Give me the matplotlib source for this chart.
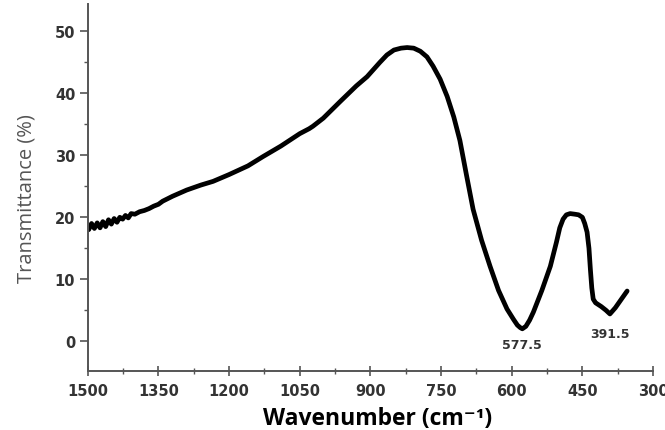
import numpy as np
import matplotlib.pyplot as plt
from matplotlib.ticker import MultipleLocator

# FTIR spectrum (wavenumber in cm-1, transmittance in %)
wavenumber = [1498, 1492, 1486, 1480, 1474, 1468, 1462, 1456, 1450, 1444, 1438,
              1432, 1426, 1420, 1414, 1408, 1400, 1390, 1380, 1370, 1360, 1350,
              1341, 1320, 1290, 1260, 1234, 1200, 1160, 1128, 1090, 1050, 1030,
              1022, 1000, 964, 930, 907, 880, 865, 850, 835, 822, 808, 794, 780,
              767, 752, 737, 723, 710, 696, 682, 664, 646, 628, 610, 596, 588,
              582, 577.5, 570, 562, 554, 536, 518, 505, 498, 491, 484, 476, 466,
              458, 450, 445, 440, 436, 433, 430, 427, 422, 418, 410, 400, 391.5,
              380, 368, 355]
transmittance = [18.0, 19.0, 18.2, 19.1, 18.3, 19.3, 18.5, 19.6, 18.9, 19.8, 19.2,
                 20.0, 19.7, 20.3, 19.9, 20.6, 20.5, 20.9, 21.1, 21.4, 21.8, 22.1,
                 22.6, 23.4, 24.4, 25.2, 25.8, 26.9, 28.3, 29.8, 31.5, 33.5, 34.3,
                 34.7, 36.0, 38.7, 41.2, 42.7, 45.0, 46.2, 47.0, 47.3, 47.4, 47.3, 46.8, 45.9,
                 44.4, 42.3, 39.5, 36.2, 32.4, 26.8, 21.3, 16.3, 12.1, 8.2, 5.2, 3.5, 2.6,
                 2.2, 2.0, 2.4, 3.4, 4.7, 8.2, 12.1, 16.0, 18.3, 19.7, 20.4, 20.6, 20.5,
                 20.4, 20.0, 19.0, 17.6, 15.0, 11.6, 8.6, 6.8, 6.2, 6.0, 5.6, 5.0, 4.4,
                 5.4, 6.7, 8.1]

peak_labels = ["577.5", "391.5"]
peak_x = [577.5, 391.5]
peak_y = [0.5, 2.3]

fig = plt.figure(figsize=(6.65, 4.31), dpi=100)
ax = fig.add_axes([0.132, 0.137, 0.85, 0.851])

ax.plot(wavenumber, transmittance, color="black", lw=3.4,
        solid_joinstyle="round", solid_capstyle="round")

for lab, x, y in zip(peak_labels, peak_x, peak_y):
    ax.text(x, y, lab, ha="center", va="top", fontsize=9, fontweight="bold",
            color="#333333", family="DejaVu Sans")

ax.set_xlim(1500, 300)
ax.set_ylim(-4.8, 54.4)
ax.xaxis.set_major_locator(MultipleLocator(150))
ax.xaxis.set_minor_locator(MultipleLocator(75))
ax.yaxis.set_major_locator(MultipleLocator(10))
ax.yaxis.set_minor_locator(MultipleLocator(5))

for side in ["top", "right"]:
    ax.spines[side].set_visible(False)
for side in ["left", "bottom"]:
    ax.spines[side].set_color("#555555")
    ax.spines[side].set_linewidth(1.4)

ax.tick_params(axis="y", which="major", direction="out", length=6, width=1.2,
               color="#555555", labelsize=10.5, labelcolor="#333333", pad=3)
ax.tick_params(axis="y", which="minor", direction="out", length=3, width=1.0, color="#555555")
ax.tick_params(axis="x", which="major", direction="inout", length=7, width=1.2,
               color="#555555", labelsize=10.5, labelcolor="#333333", pad=5)
ax.tick_params(axis="x", which="minor", direction="inout", length=4, width=1.0, color="#555555")
for t in ax.get_xticklabels() + ax.get_yticklabels():
    t.set_fontweight("bold")
    t.set_family("DejaVu Sans")

ax.set_xlabel("Wavenumber (cm\u207b\u00b9)", fontsize=16.5, fontweight="bold",
              family=["Open Sans", "DejaVu Sans"])
ax.set_ylabel("Transmittance (%)", fontsize=14.5, color="#555555",
              family=["Open Sans", "DejaVu Sans"])
ax.xaxis.set_label_coords(0.512, -0.095)
ax.yaxis.set_label_coords(-0.09, 0.474)

fig.savefig("out.png", dpi=100)
